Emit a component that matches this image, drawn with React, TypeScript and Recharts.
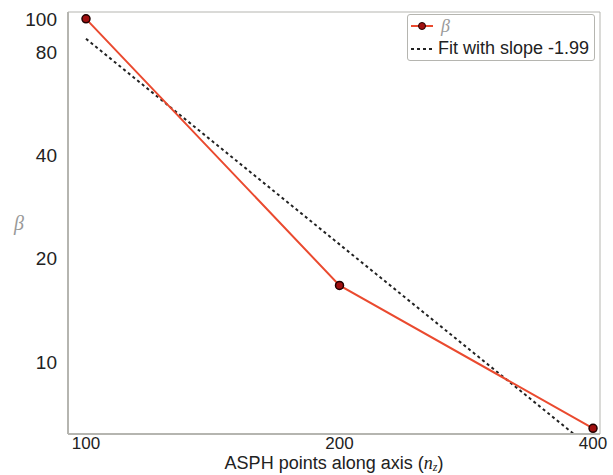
import { LineChart, Line, XAxis, YAxis, Label, ReferenceArea } from 'recharts';

// ─── Data ────────────────────────────────────────────────────────────────────

const nzPoints = [100, 200, 400];
const betaValues = [100, 16.7, 6.4];
const fitValues = [87.5, 22.0, 5.55];

const xTicks = [100, 200, 400];
const yTicks = [10, 20, 40, 80, 100];

const X_DOMAIN = [95.2, 407.7];
const Y_DOMAIN = [6.16, 104.7];

const FONT = '"Liberation Sans", Arial, sans-serif';
const RED = '#ea4a2f';
const FRAME = '#b5b5b0';

const chartData = nzPoints.map((x, i) => ({
  nz: x,
  beta: betaValues[i],
  fit: fitValues[i],
}));

function LegendBox() {
  return (
    <div
      style={{
        position: 'absolute',
        left: 407,
        top: 14,
        border: `1px solid ${FRAME}`,
        borderRadius: 3,
        background: '#fff',
        padding: '0px 5px 1px 3px',
        fontFamily: FONT,
        fontSize: 18,
        color: '#222',
        lineHeight: '22px',
      }}
    >
      <div style={{ display: 'flex', alignItems: 'center' }}>
        <svg width={24} height={14}>
          <line x1={0} y1={7} x2={22} y2={7} stroke={RED} strokeWidth={2} />
          <circle cx={11} cy={7} r={3.5} fill="#a01010" stroke="#200" />
        </svg>
        <span style={{ marginLeft: 6, fontStyle: 'italic', color: '#999', fontFamily: 'serif' }}>β</span>
      </div>
      <div style={{ display: 'flex', alignItems: 'center' }}>
        <svg width={24} height={14}>
          <line x1={0} y1={8} x2={22} y2={8} stroke="#222" strokeWidth={2} strokeDasharray="3 3" />
        </svg>
        <span style={{ marginLeft: 3 }}>Fit with slope -1.99</span>
      </div>
    </div>
  );
}

function XLabel({ viewBox }: any) {
  const cx = viewBox.x + viewBox.width / 2;
  const y = viewBox.y + 35;
  return (
    <text x={cx} y={y} textAnchor="middle" fontSize={18} fill="#222" fontFamily={FONT}>
      ASPH points along axis (
      <tspan fontStyle="italic" fontFamily="serif">n</tspan>
      <tspan fontStyle="italic" fontFamily="serif" fontSize={12} dy={1.5}>z</tspan>
      <tspan dy={-1.5}>)</tspan>
    </text>
  );
}

export default function App() {
  return (
    <div style={{ position: 'absolute', left: 0, top: 0, background: '#fff', width: 613, height: 475 }}>
      <LineChart
        width={613}
        height={475}
        data={chartData}
        margin={{ top: 12, right: 13, bottom: 0, left: 0 }}
      >
        <XAxis
          dataKey="nz"
          type="number"
          scale="log"
          domain={X_DOMAIN}
          allowDataOverflow
          ticks={xTicks}
          height={41}
          tickLine={false}
          tickMargin={-3}
          axisLine={{ stroke: FRAME, strokeWidth: 2 }}
          tick={{ fontSize: 17, fill: '#222', fontFamily: FONT }}
        >
          <Label content={<XLabel />} />
        </XAxis>
        <YAxis
          type="number"
          scale="log"
          domain={Y_DOMAIN}
          allowDataOverflow
          ticks={yTicks}
          width={68}
          tickLine={false}
          tickMargin={5}
          axisLine={{ stroke: FRAME, strokeWidth: 2 }}
          tick={{ fontSize: 19, fill: '#222', fontFamily: FONT }}
        >
          <Label
            value="β"
            position="insideLeft"
            offset={14}
            style={{ fontSize: 20, fill: '#999', fontStyle: 'italic', fontFamily: 'serif' }}
          />
        </YAxis>
        <ReferenceArea
          x1={X_DOMAIN[0]}
          x2={X_DOMAIN[1]}
          y1={Y_DOMAIN[0]}
          y2={Y_DOMAIN[1]}
          fill="none"
          stroke={FRAME}
          strokeWidth={1}
          ifOverflow="visible"
        />
        <Line
          dataKey="fit"
          stroke="#222"
          strokeWidth={2}
          strokeDasharray="3 3"
          dot={false}
          isAnimationActive={false}
        />
        <Line
          dataKey="beta"
          stroke={RED}
          strokeWidth={2}
          dot={{ r: 4, fill: '#a01010', stroke: '#200', strokeWidth: 1.5 }}
          isAnimationActive={false}
        />
      </LineChart>
      <LegendBox />
    </div>
  );
}
